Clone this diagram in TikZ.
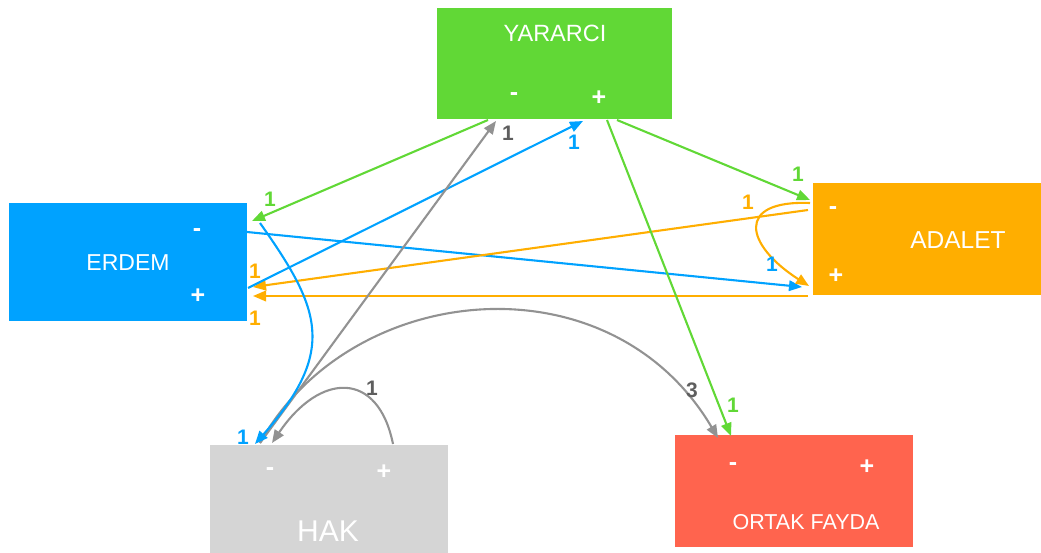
\documentclass[tikz,border=0pt]{standalone}
\usepackage{fontspec}
\setmainfont{Liberation Sans}
\usetikzlibrary{arrows.meta}
\definecolor{kgreen}{HTML}{61D836}
\definecolor{kblue}{HTML}{00A2FF}
\definecolor{korange}{HTML}{FFAE00}
\definecolor{klight}{HTML}{D5D5D5}
\definecolor{kred}{HTML}{FF644E}
\definecolor{kgray}{HTML}{929292}
\definecolor{kdark}{HTML}{5E5E5E}
\begin{document}
\begin{tikzpicture}[x=1pt,y=-1pt,
  box/.style={rectangle, inner sep=0pt, draw=none, anchor=north west},
  title/.style={text=white, inner sep=0pt, font=\fontsize{23}{25}\selectfont},
  sign/.style={text=white, inner sep=0pt, font=\fontsize{25}{27}\selectfont\bfseries},
  wt/.style={inner sep=0pt, font=\fontsize{21}{23}\selectfont\bfseries},
  link/.style={line width=2.1pt, -{Triangle[length=13pt,width=10.5pt]}},
  ]
\useasboundingbox (0,0) rectangle (1041,553);

% boxes
\node[box, fill=kgreen, minimum width=235pt, minimum height=111pt] (yararci) at (437,8) {};
\node[box, fill=kblue, minimum width=238pt, minimum height=118pt] (erdem) at (9,203) {};
\node[box, fill=korange, minimum width=230pt, minimum height=112pt] (adalet) at (813,183) {};
\node[box, fill=klight, minimum width=238pt, minimum height=110pt] (hak) at (210,445) {};
\node[box, fill=kred, minimum width=238pt, minimum height=112pt] (ortak) at (675,435) {};

% box texts
\node[title, font=\fontsize{23.5}{25}\selectfont] (tY) at (555,33) {YARARCI};
\node[sign] (yminus) at (514,97) {-};
\node[sign] (yplus) at (599,98) {+};
\node[title] (tE) at (128,263) {ERDEM};
\node[sign] (eminus) at (197,233) {-};
\node[sign] (eplus) at (198,296) {+};
\node[title, font=\fontsize{24.5}{26}\selectfont] (tA) at (958,240) {ADALET};
\node[sign] (aminus) at (833,211) {-};
\node[sign] (aplus) at (836,276) {+};
\node[title, font=\fontsize{30}{32}\selectfont] (tH) at (328,531) {HAK};
\node[sign] (hminus) at (270,472) {-};
\node[sign] (hplus) at (384,472) {+};
\node[title, font=\fontsize{21.5}{23}\selectfont] (tO) at (806,522) {ORTAK FAYDA};
\node[sign] (ominus) at (733,467) {-};
\node[sign] (oplus) at (867,467) {+};

% port points
\coordinate (Ymi) at (496,121);
\coordinate (Ypi) at (583,121);
\coordinate (Ymo) at (488,120);
\coordinate (Ypo1) at (617,120);
\coordinate (Ypo2) at (607,120);
\coordinate (Emi) at (252,221);
\coordinate (Emo) at (247,232);
\coordinate (Ec) at (260,223);
\coordinate (Epo) at (248,288);
\coordinate (Epi1) at (253,287);
\coordinate (Epi2) at (253,296);
\coordinate (Ami) at (810,200);
\coordinate (Amo) at (808,210);
\coordinate (Amo2) at (810,203);
\coordinate (Api) at (802,287);
\coordinate (Api2) at (809,286);
\coordinate (Apo) at (808,296);
\coordinate (Hmi) at (255,444);
\coordinate (Hmo) at (260,443);
\coordinate (Hmi2) at (272,443);
\coordinate (Hpo) at (393,444);
\coordinate (Omi) at (718,438);
\coordinate (Omi2) at (731,436);

% connectors
\draw[link, kblue] (Emo) -- (Api);
\draw[link, korange] (Amo) -- (Epi1);
\draw[link, korange] (Apo) -- (Epi2);
\draw[link, korange] (Amo2) .. controls (735,200) and (745,245) .. (Api2);
\draw[link, kgreen] (Ymo) -- (Emi);
\draw[link, kblue] (Epo) -- (Ypi);
\draw[link, kgreen] (Ypo1) -- (Ami);
\draw[link, kgreen] (Ypo2) -- (Omi2);
\draw[link, kgray] (Hmo) -- (Ymi);
\draw[link, kgray] (Hmo) .. controls (350,280) and (610,255) .. (Omi);
\draw[link, kgray] (Hpo) .. controls (378,370) and (320,372) .. (Hmi2);
\draw[link, kblue] (Ec) .. controls (320,308) and (338,350) .. (Hmi);

% weights
\node[wt, text=kgreen] (w1) at (270,199) {1};
\node[wt, text=kdark] (w2) at (508,133) {1};
\node[wt, text=kblue] (w3) at (574,142) {1};
\node[wt, text=kgreen] (w4) at (798,174) {1};
\node[wt, text=kgreen] (w5) at (733,405) {1};
\node[wt, text=kblue] (w6) at (772,264) {1};
\node[wt, text=korange] (w7) at (748,202) {1};
\node[wt, text=korange] (w8) at (255,271) {1};
\node[wt, text=korange] (w9) at (255,318) {1};
\node[wt, text=kblue] (w10) at (243,437) {1};
\node[wt, text=kdark] (w11) at (372,388) {1};
\node[wt, text=kdark] (w12) at (692,390) {3};
\end{tikzpicture}
\end{document}
